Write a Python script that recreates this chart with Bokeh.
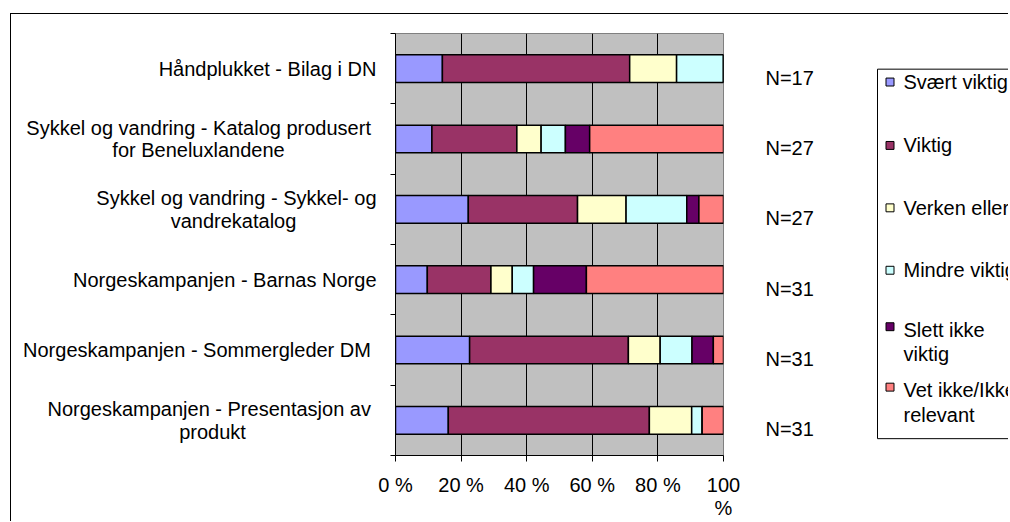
from bokeh.plotting import figure
from bokeh.layouts import row
from bokeh.models import Range1d, FixedTicker, ColumnDataSource, LinearAxis
from bokeh.core.properties import value
from bokeh.embed import file_html
from bokeh.resources import INLINE

# ---------------- data ----------------
categories = [
    "Håndplukket - Bilag i DN",
    "Sykkel og vandring  - Katalog produsert\nfor Beneluxlandene",
    "Sykkel og vandring - Sykkel- og\nvandrekatalog",
    "Norgeskampanjen - Barnas Norge",
    "Norgeskampanjen  - Sommergleder DM",
    "Norgeskampanjen  - Presentasjon av\nprodukt",
]
n_labels = ["N=17", "N=27", "N=27", "N=31", "N=31", "N=31"]

series_names = ["Svært viktig", "Viktig", "Verken eller", "Mindre viktig",
                "Slett ikke\nviktig", "Vet ikke/Ikke\nrelevant"]
svaert_viktig = [14.3, 11.1, 22.2, 9.7, 22.6, 16.1]
viktig = [57.1, 25.9, 33.3, 19.4, 48.4, 61.3]
verken_eller = [14.3, 7.4, 14.8, 6.5, 9.7, 12.9]
mindre_viktig = [14.3, 7.4, 18.5, 6.5, 9.7, 3.2]
slett_ikke = [0.0, 7.4, 3.7, 16.1, 6.5, 0.0]
vet_ikke = [0.0, 40.8, 7.5, 41.8, 3.1, 6.5]

x_ticks = [0, 20, 40, 60, 80, 100]
x_tick_labels = ["0 %", "20 %", "40 %", "60 %", "80 %", "100\n%"]

colors = ["#9999FF", "#993366", "#FFFFCC", "#CCFFFF", "#660066", "#FF8080"]

# ---------------- style / layout constants (page pixels) ----------------
FONT = "Liberation Sans"
FS = "20px"
OX, OY = 11, 14             # content origin inside the outer chart border
PLOT_L, PLOT_R, PLOT_T, PLOT_B = 395, 723, 33, 459
LABEL_R = 377               # right edge of category label column
LEG_L = 860                 # left edge of legend column
PAGE_R = 1008
ROW_H = 507
TOP_BORDER = PLOT_T - OY
BOTTOM_BORDER = ROW_H - (PLOT_B - OY)

ncat = len(categories)
y_centers = [ncat - 0.5 - i for i in range(ncat)]
line_off = 0.16
y_range = Range1d(0, ncat)


def bare(fig):
    fig.grid.visible = False
    fig.outline_line_color = None
    fig.background_fill_color = "white"
    fig.border_fill_color = "white"
    return fig


common = dict(output_backend="svg", toolbar_location=None,
              min_border_top=TOP_BORDER, min_border_bottom=BOTTOM_BORDER)

# ---------------- category label column ----------------
B = bare(figure(width=LABEL_R - OX, height=ROW_H, x_range=Range1d(OX, LABEL_R), y_range=y_range,
                x_axis_location=None, y_axis_location=None, min_border_left=0, min_border_right=0,
                **common))

l1_y, l1_t = [], []
l2_x, l2_y, l2_t = [], [], []
second_line_center = {1: 198, 2: 233, 5: 212}
for i, cat in enumerate(categories):
    parts = cat.split("\n")
    yc = y_centers[i]
    if len(parts) == 2:
        l1_y.append(yc + line_off)
        l2_x.append(second_line_center[i])
        l2_y.append(yc - line_off)
        l2_t.append(parts[1])
    else:
        l1_y.append(yc)
    l1_t.append(parts[0])

B.text(x=[LABEL_R - 1] * len(l1_t), y=l1_y, text=l1_t, text_align="right", text_baseline="middle",
       text_font=value(FONT), text_font_size=value(FS), text_color="black")
B.text(x=l2_x, y=l2_y, text=l2_t, text_align="center", text_baseline="middle",
       text_font=value(FONT), text_font_size=value(FS), text_color="black")

# ---------------- main plot ----------------
A = figure(width=LEG_L - LABEL_R, height=ROW_H, x_range=Range1d(0, 100), y_range=y_range,
           min_border_left=PLOT_L - LABEL_R, min_border_right=LEG_L - PLOT_R, **common)
A.background_fill_color = "#C0C0C0"
A.border_fill_color = "white"
A.outline_line_color = "#808080"
A.outline_line_width = 1

keys = ["s0", "s1", "s2", "s3", "s4", "s5"]
src = ColumnDataSource(dict(y=y_centers, s0=svaert_viktig, s1=viktig, s2=verken_eller,
                            s3=mindre_viktig, s4=slett_ikke, s5=vet_ikke))
A.hbar_stack(keys, y="y", height=0.394, color=colors, source=src,
             line_color="black", line_width=1.5)

A.ygrid.visible = False
A.xgrid.ticker = FixedTicker(ticks=[20, 40, 60, 80])
A.xgrid.grid_line_color = "black"
A.xgrid.grid_line_width = 1

A.xaxis.ticker = FixedTicker(ticks=x_ticks)
A.xaxis.major_label_overrides = {t: l for t, l in zip(x_ticks, x_tick_labels)}
A.xaxis.major_tick_out = 6
A.xaxis.major_tick_in = 0
A.xaxis.minor_tick_line_color = None
A.xaxis.axis_line_color = "black"
A.xaxis.major_label_text_font = FONT
A.xaxis.major_label_text_font_size = FS
A.xaxis.major_label_text_color = "black"
A.xaxis.major_label_text_line_height = 1.05
A.xaxis.major_label_standoff = 12

A.yaxis.ticker = FixedTicker(ticks=[], minor_ticks=list(range(ncat + 1)))
A.yaxis.major_tick_line_color = None
A.yaxis.major_tick_out = 0
A.yaxis.major_tick_in = 0
A.yaxis.minor_tick_out = 5
A.yaxis.minor_tick_in = 0
A.yaxis.minor_tick_line_color = "black"
A.yaxis.axis_line_color = "black"
A.yaxis.major_label_standoff = 0

# N labels as right-hand axis labels
n_ticks = [round(yc - 0.13, 3) for yc in y_centers]
nax = LinearAxis(ticker=FixedTicker(ticks=n_ticks),
                 major_label_overrides={t: l for t, l in zip(n_ticks, n_labels)})
nax.axis_line_color = None
nax.major_tick_line_color = None
nax.minor_tick_line_color = None
nax.major_tick_out = 0
nax.major_tick_in = 0
nax.major_label_standoff = 42
nax.major_label_text_font = FONT
nax.major_label_text_font_size = FS
nax.major_label_text_color = "black"
A.add_layout(nax, "right")

# ---------------- legend column (page-pixel coordinates) ----------------
C = bare(figure(width=PAGE_R - LEG_L, height=ROW_H, x_range=Range1d(LEG_L, PAGE_R),
                y_range=Range1d(PLOT_B, PLOT_T),
                x_axis_location=None, y_axis_location=None, min_border_left=0, min_border_right=0,
                **common))
leg_box = dict(left=[877], right=[PAGE_R + 20], top=[69], bottom=[442])
C.quad(**leg_box, fill_color="white", line_color="black", line_width=1)

leg_first_y = [82, 146, 209, 272, 332, 393]
leg_square_y = [82, 146, 209, 272, 329, 390]
first_lines, second_lines, second_y = [], [], []
for name, fy in zip(series_names, leg_first_y):
    parts = name.split("\n")
    first_lines.append(parts[0])
    if len(parts) == 2:
        second_lines.append(parts[1])
        second_y.append(fy + 25)
C.rect(x=[889.5] * len(colors), y=leg_square_y, width=8, height=8,
       fill_color=colors, line_color="black", line_width=1)
C.text(x=[903] * len(first_lines), y=leg_first_y, text=first_lines, text_baseline="middle",
       text_font=value(FONT), text_font_size=value(FS), text_color="black")
C.text(x=[903] * len(second_lines), y=second_y, text=second_lines, text_baseline="middle",
       text_font=value(FONT), text_font_size=value(FS), text_color="black")

layout = row(B, A, C, styles={"margin-left": "10px", "margin-top": "13px",
                              "border-left": "1px solid black", "border-top": "1px solid black"})
open("out.html", "w").write(file_html(layout, INLINE))
